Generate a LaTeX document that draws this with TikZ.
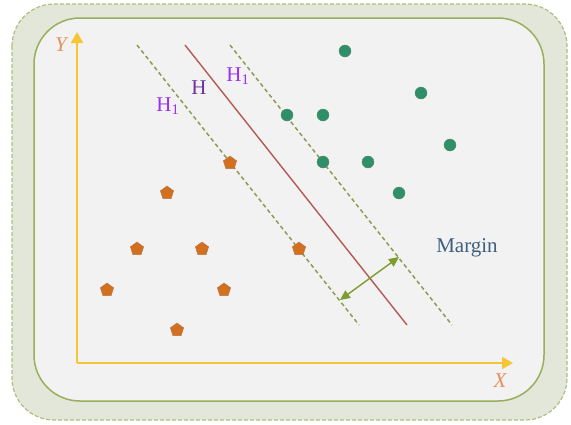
\documentclass[tikz,border=0pt]{standalone}
\usepackage{fontspec}
\setmainfont{Liberation Serif}
\usetikzlibrary{arrows.meta,shapes.geometric}
\definecolor{outerfill}{HTML}{E3E7DA}
\definecolor{olive}{HTML}{9AAE5C}
\definecolor{axisyel}{HTML}{F7C536}
\definecolor{axlab}{HTML}{E8905A}
\definecolor{dotgreen}{HTML}{2F8F68}
\definecolor{pentor}{HTML}{D3701F}
\definecolor{hred}{HTML}{B35A55}
\definecolor{hpurple}{HTML}{9B30F0}
\definecolor{hdark}{HTML}{7030A0}
\definecolor{margblue}{HTML}{3E5F80}
\definecolor{arrgreen}{HTML}{7E9B2E}

\begin{document}
\begin{tikzpicture}[x=1pt,y=-1pt]
			\tikzstyle{g}=[circle,fill=dotgreen,draw=dotgreen!60!gray,inner sep=0pt,minimum size=12pt]
			\tikzstyle{o}=[regular polygon,regular polygon sides=5,fill=pentor,draw=pentor!60!gray,inner sep=0pt,minimum size=14pt]
			\tikzstyle{sep}=[olive!90!black,line width=1.5pt,dash pattern=on 4pt off 3pt]
			\useasboundingbox (0,0) rectangle (571,424);
			% frames
			\draw [line width=1.2pt,dash pattern=on 4pt off 2pt,olive!80,fill=outerfill,rounded corners=42] (12,4) rectangle (567,420);
			\draw [olive,line width=1.5pt,fill=black!5,rounded corners=46] (34,18) rectangle (544,401);
			% axes
			\coordinate (o) at (77,363);
			\coordinate (ytop) at (77,32);
			\coordinate (xend) at (513,363);
			\draw [axisyel,line width=2pt,-{Triangle[length=11pt,width=12pt]}] (o) -- (ytop);
			\draw [axisyel,line width=2pt,-{Triangle[length=11pt,width=12pt]}] (o) -- (xend);
			\node [axlab,font=\fontsize{21}{21}\selectfont\itshape] (ylab) at (61,45) {Y};
			\node [axlab,font=\fontsize{21}{21}\selectfont\itshape] (xlab) at (500,381) {X};
			% hyperplanes
			\coordinate (l1) at (137,45);
			\coordinate (l2) at (359,325);
			\coordinate (h1) at (185,45);
			\coordinate (h2) at (407,325);
			\coordinate (r1) at (230,45);
			\coordinate (r2) at (452,325);
			\draw [sep] (l1) -- (l2);
			\draw [hred,line width=1.4pt] (h1) -- (h2);
			\draw [sep] (r1) -- (r2);
			\node [hpurple,font=\fontsize{21}{21}\selectfont] (hl) at (168,106) {H\textsubscript{1}};
			\node [hdark,font=\fontsize{21}{21}\selectfont] (h) at (199,88) {H};
			\node [hpurple,font=\fontsize{21}{21}\selectfont] (hr) at (238,76) {H\textsubscript{1}};
			% margin
			\coordinate (a) at (340,300);
			\coordinate (b) at (399,257);
			\draw [arrgreen,line width=1.4pt,{Triangle[length=10pt,width=9pt]}-{Triangle[length=10pt,width=9pt]}] (a) -- (b);
			\node [margblue,font=\fontsize{21}{21}\selectfont] (m) at (467,248) {Margin};
			% points
			\node [g] (g1) at (345,51) {};
			\node [g] (g2) at (421,93) {};
			\node [g] (g3) at (287,115) {};
			\node [g] (g4) at (323,115) {};
			\node [g] (g5) at (450,145) {};
			\node [g] (g6) at (323,162) {};
			\node [g] (g7) at (368,162) {};
			\node [g] (g8) at (399,193) {};
			\node [o] (o1) at (230,163) {};
			\node [o] (o2) at (167,193) {};
			\node [o] (o3) at (137,249) {};
			\node [o] (o4) at (202,249) {};
			\node [o] (o5) at (299,249) {};
			\node [o] (o6) at (107,290) {};
			\node [o] (o7) at (224,290) {};
			\node [o] (o8) at (177,330) {};
	\end{tikzpicture}
\end{document}
